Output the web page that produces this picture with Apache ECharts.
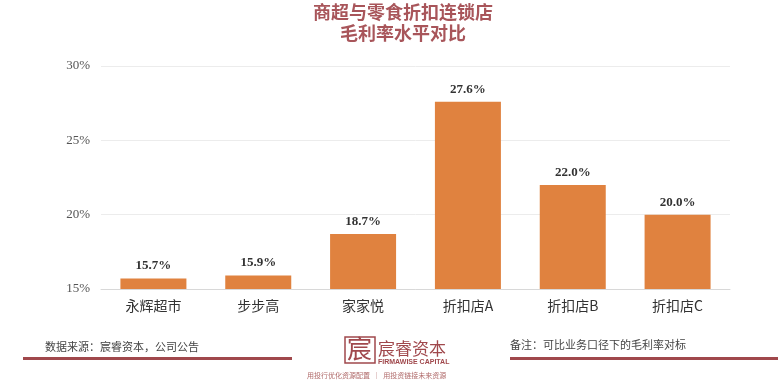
<!DOCTYPE html>
<html><head><meta charset="utf-8">
<script src="https://cdn.jsdelivr.net/npm/echarts@6/dist/echarts.min.js"></script>
<style>html,body{margin:0;padding:0;background:#fff}#c{width:780px;height:390px}</style>
</head><body><div id="c"></div>
<script>
var categories = ['永辉超市','步步高','家家悦','折扣店A','折扣店B','折扣店C'];
var margins = [15.7, 15.9, 18.7, 27.6, 22.0, 20.0];
var titleLines = ['商超与零食折扣连锁店','毛利率水平对比'];
var sourceText = '数据来源：宸睿资本，公司公告';
var noteText = '备注：可比业务口径下的毛利率对标';

var chart = echarts.init(document.getElementById('c'));
var red = '#a0484c';
chart.setOption({
  animation: false,
  backgroundColor: '#fff',
  title: {
    text: titleLines.join('\n'),
    left: 398, top: -3, textAlign: 'center',
    textStyle: {color: '#a8555a', fontSize: 18, fontWeight: 'bold', lineHeight: 21,
      fontFamily: 'Noto Sans CJK SC'}
  },
  grid: {left: 101, right: 50, top: 66, bottom: 101},
  xAxis: {
    type: 'category', data: categories,
    axisLine: {lineStyle: {color: '#d8d8d8'}},
    axisTick: {show: false},
    axisLabel: {color: '#333', fontSize: 14, margin: 10, fontFamily: 'Noto Sans CJK SC'}
  },
  yAxis: {
    type: 'value', min: 15, max: 30, interval: 5,
    axisLine: {show: false}, axisTick: {show: false},
    splitLine: {lineStyle: {color: '#ececec'}},
    axisLabel: {formatter: '{value}%', color: '#555', fontSize: 13, margin: 11,
      fontFamily: 'Liberation Serif'}
  },
  series: [{
    type: 'bar', data: margins, barWidth: 66,
    itemStyle: {color: '#e0823f'},
    label: {show: true, position: 'top', distance: 6,
      formatter: function(p){return p.value.toFixed(1) + '%';},
      color: '#333', fontSize: 13, fontWeight: 'bold', fontFamily: 'Liberation Serif'}
  }],
  graphic: [
    {type: 'text', left: 45, top: 341, style: {text: sourceText, fill: '#444', fontSize: 11, fontFamily: 'Noto Sans CJK SC'}},
    {type: 'rect', shape: {x: 23, y: 357, width: 269, height: 3}, style: {fill: red}},
    {type: 'text', left: 510, top: 339, style: {text: noteText, fill: '#444', fontSize: 11, fontFamily: 'Noto Sans CJK SC'}},
    {type: 'rect', shape: {x: 510, y: 357, width: 268, height: 3}, style: {fill: red}},
    {type: 'rect', shape: {x: 345, y: 337, width: 30, height: 26}, style: {fill: 'none', stroke: red, lineWidth: 1.5}},
    {type: 'text', left: 347, top: 336, style: {text: '宸', fill: red, fontSize: 25, fontFamily: 'Noto Sans CJK SC'}},
    {type: 'text', left: 378, top: 340, style: {text: '宸睿资本', fill: red, fontSize: 17, fontFamily: 'Noto Sans CJK SC'}},
    {type: 'text', left: 378, top: 359, style: {text: 'FIRMAWISE CAPITAL', fill: red, fontSize: 7, fontWeight: 'bold', fontFamily: 'Liberation Sans'}},
    {type: 'text', left: 307, top: 372, style: {text: '用投行优化资源配置  ｜  用投资链接未来资源', fill: '#b06a6a', fontSize: 7, fontFamily: 'Noto Sans CJK SC'}}
  ]
});
</script></body></html>
